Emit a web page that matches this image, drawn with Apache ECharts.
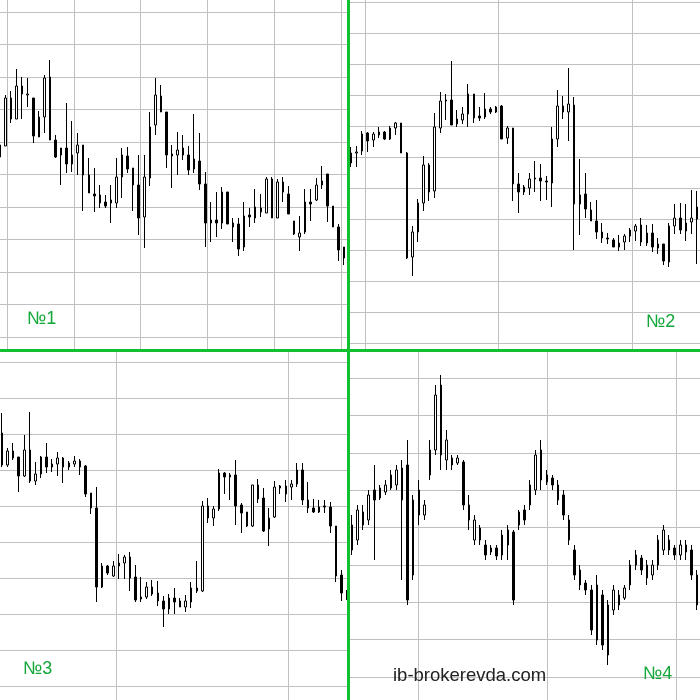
<!DOCTYPE html>
<html><head><meta charset="utf-8">
<script src="https://cdn.jsdelivr.net/npm/echarts@6/dist/echarts.min.js"></script>
<style>html,body{margin:0;padding:0;background:#fff}#c{width:700px;height:700px}</style>
</head><body><div id="c"></div>
<script>
// OHLC values, each candle [open, close, low, high]
const panel1 = [
[205,193,190,210],[204,252,204,255],[252,231,227,259],[231,264,231,281],[264,256,231,273],
[255,256,243,272],[252,214,207,252],[213,233,213,239],[233,272,217,275],[273,210,210,290],
[210,193,192,215],[195,202,165,202],[202,186,177,247],[186,195,178,229],[197,205,175,217],
[205,175,139,205],[175,157,157,192],[156,154,138,182],[155,147,142,165],[148,144,142,155],
[147,150,127,165],[147,173,142,192],[173,195,152,202],[194,181,177,203],[182,165,139,182],
[165,132,115,195],[133,173,102,195],[172,223,164,238],[225,255,215,272],[254,238,238,265],
[238,195,182,238],[196,194,162,205],[195,200,175,218],[202,195,190,215],[195,180,175,204],
[181,191,177,236],[189,166,160,217],[166,127,103,178],[127,130,108,148],[130,127,113,158],
[127,158,121,163],[158,126,126,158],[127,123,108,132],[126,101,94,132],[103,134,99,148],
[135,133,123,142],[132,143,127,161],[142,138,133,156],[137,171,137,173],[171,132,132,173],
[132,168,132,171],[168,158,148,173],[156,136,136,164],[129,116,115,129],[113,117,99,134],
[118,148,116,161],[148,146,129,161],[150,165,149,172],[165,169,161,184],[176,144,128,176],
[144,123,123,144],[123,100,89,126],[103,92,85,103]
];
const panel2 = [
[187,197,183,203],[197,198,183,204],[199,216,195,219],[217,209,198,218],[210,216,203,218],
[215,218,212,223],[218,211,210,219],[211,222,210,224],[222,227,215,228],[227,197,197,227],
[197,92,91,198],[93,118,74,124],[118,147,108,151],[147,185,139,194],[185,158,149,187],
[159,223,152,237],[222,249,217,258],[249,250,230,256],[250,225,225,289],[226,231,223,240],
[230,236,226,243],[236,256,223,266],[256,232,227,256],[234,232,229,243],[233,241,231,257],
[241,238,236,243],[238,243,237,244],[244,211,211,245],[212,222,206,224],[222,166,149,222],
[166,158,137,177],[158,163,155,165],[162,171,155,177],[171,172,158,189],[172,169,149,186],
[169,168,150,174],[167,211,143,223],[211,244,203,260],[244,238,231,254],[238,246,209,282],
[245,146,100,253],[146,155,115,191],[156,141,132,177],[140,129,129,148],[129,118,111,150],
[118,112,107,127],[112,111,106,117],[110,103,103,112],[103,107,99,115],[108,114,100,116],
[114,120,108,122],[119,124,109,126],[125,108,104,132],[107,117,104,125],[117,103,98,126],
[102,106,96,112],[106,89,85,106],[88,124,83,127],[124,132,116,146],[132,120,116,147],
[119,127,109,146],[128,132,116,160],[131,143,86,159]
];
const panel3 = [
[267,235,233,287],[235,249,233,252],[249,242,240,257],[243,224,208,243],[224,250,223,265],
[250,219,217,288],[219,226,215,238],[226,243,222,244],[243,233,227,257],[233,236,228,241],
[236,242,224,248],[242,233,217,243],[233,237,230,239],[236,239,233,244],[239,233,225,241],
[234,206,203,235],[207,192,186,207],[192,113,98,213],[113,134,112,137],[134,127,125,135],
[124,134,123,139],[134,137,121,146],[137,143,121,145],[143,122,109,148],[123,100,98,135],
[101,103,98,123],[103,113,101,118],[113,106,104,120],[107,99,94,119],[99,91,73,104],
[91,102,86,106],[102,98,86,112],[99,93,93,102],[93,99,88,105],[98,112,92,118],
[112,109,107,139],[109,194,108,199],[194,182,177,202],[182,191,174,194],[191,227,189,231],
[227,223,206,228],[225,223,200,227],[225,194,175,240],[195,187,167,197],[188,174,173,188],
[174,215,173,215],[215,201,197,221],[202,169,168,212],[171,182,154,192],[183,213,182,219],
[214,212,206,215],[206,214,198,220],[213,216,200,220],[216,230,213,237],[230,200,195,237],
[200,192,187,218],[192,188,187,201],[188,193,187,200],[194,193,187,200],[193,174,167,198],
[174,124,118,174],[125,107,99,130],[107,102,100,110]
];
const panel4 = [
[150,175,145,185],[160,190,155,195],[188,175,170,195],[180,205,175,210],[210,200,140,235],
[202,212,200,215],[208,215,205,220],[225,212,210,230],[215,230,210,235],[200,232,120,240],
[235,100,95,260],[125,200,120,205],[210,185,175,220],[185,195,180,200],[225,250,220,260],
[250,305,245,315],[315,245,230,325],[240,260,230,270],[242,235,230,245],[237,242,235,245],
[238,195,190,240],[195,180,170,205],[160,180,155,185],[172,160,155,175],[155,145,140,160],
[148,152,145,155],[152,144,140,155],[145,165,140,170],[155,170,140,175],[168,100,95,170],
[175,188,170,190],[190,180,175,195],[195,215,190,220],[210,245,205,250],[250,220,210,260],
[218,225,215,230],[222,215,210,225],[215,200,195,220],[205,185,180,210],[180,160,155,185],
[150,125,120,155],[130,115,110,135],[117,110,105,120],[110,70,65,115],[60,115,55,125],
[105,55,50,110],[95,45,35,100],[90,110,85,115],[105,95,90,110],[102,112,100,115],
[115,135,110,140],[135,145,130,150],[142,130,125,145],[135,122,115,140],[125,135,120,140],
[135,160,130,165],[150,170,145,175],[160,150,145,165],[152,145,140,155],[145,155,140,160],
[155,148,140,160],[150,125,120,155],[125,95,90,130]
];
const panels = [panel1, panel2, panel3, panel4];
const panelLabels = ['№1', '№2', '№3', '№4'];
const watermark = 'ib-brokerevda.com';
// background line divisions per panel (vertical columns, horizontal rows)
const gridCols = [5, 2, 1, 2];
const gridRows = [10, 11, 9, 8];

// layout (pixels)
const panelBoxes = [
  {left:0, top:0, width:347, height:349},
  {left:350, top:0, width:350, height:349},
  {left:0, top:352, width:347, height:348},
  {left:350, top:352, width:350, height:348}
];
const vLineSpan = [ {left:7, width:334}, {left:365, width:267}, {left:116, width:172}, {left:418, width:258} ];
const hLineSpan = [ {top:12, height:325}, {top:2, height:341}, {top:362, height:324}, {top:378, height:299} ];
const candleBoxes = [
  {left:0, top:0, width:344, height:350},
  {left:351, top:0, width:346, height:350},
  {left:2, top:350, width:345, height:350},
  {left:352, top:350, width:345, height:350}
];

const grid = [], xAxis = [], yAxis = [], series = [];
const lineStyle = {color:'#c0c0c0', width:1};
const hidden = {axisLine:{show:false}, axisTick:{show:false}, axisLabel:{show:false}};
function addGrid(box, xa, ya) {
  const gi = grid.length;
  grid.push(box);
  xAxis.push(Object.assign({gridIndex:gi}, hidden, xa));
  yAxis.push(Object.assign({gridIndex:gi}, hidden, ya));
  return gi;
}
for (let i = 0; i < 4; i++) {
  const p = panelBoxes[i];
  addGrid({left:vLineSpan[i].left, width:vLineSpan[i].width, top:p.top, height:p.height},
    {type:'value', min:0, max:gridCols[i], interval:1, splitLine:{show:true, lineStyle}},
    {type:'value', min:0, max:1, splitLine:{show:false}});
  addGrid({left:p.left, width:p.width, top:hLineSpan[i].top, height:hLineSpan[i].height},
    {type:'value', min:0, max:1, splitLine:{show:false}},
    {type:'value', min:0, max:gridRows[i], interval:1, splitLine:{show:true, lineStyle}});
}
candleBoxes.forEach((b, i) => {
  const cats = panels[i].map((_, k) => String(k + 1));
  const gi = addGrid(Object.assign({}, b),
    {type:'category', data:cats, boundaryGap:false, splitLine:{show:false}},
    {type:'value', min:0, max:350, splitLine:{show:false}});
  series.push({type:'candlestick', xAxisIndex:gi, yAxisIndex:gi, data:panels[i],
    barWidth:2, clip:false, silent:true,
    itemStyle:{color:'#ffffff', color0:'#000000', borderColor:'#000000', borderColor0:'#000000', borderWidth:1}});
});

const green = '#11bf2f';
const labelFont = '18px "Liberation Sans", Arial, sans-serif';
const chart = echarts.init(document.getElementById('c'), null, {renderer:'canvas'});
chart.setOption({
  animation:false,
  backgroundColor:'#ffffff',
  grid, xAxis, yAxis, series,
  graphic:[
    {type:'rect', z:100, shape:{x:347, y:0, width:3, height:700}, style:{fill:green}},
    {type:'rect', z:100, shape:{x:0, y:349, width:700, height:3}, style:{fill:green}},
    {type:'text', z:101, left:27, top:310, style:{text:panelLabels[0], fill:'#14a83a', font:labelFont}},
    {type:'text', z:101, left:646, top:313, style:{text:panelLabels[1], fill:'#14a83a', font:labelFont}},
    {type:'text', z:101, left:23, top:660, style:{text:panelLabels[2], fill:'#14a83a', font:labelFont}},
    {type:'text', z:101, left:643, top:665, style:{text:panelLabels[3], fill:'#14a83a', font:labelFont}},
    {type:'text', z:101, left:393, top:666, style:{text:watermark, fill:'#222222', font:'18.5px "Liberation Sans", Arial, sans-serif'}}
  ]
});
</script></body></html>
